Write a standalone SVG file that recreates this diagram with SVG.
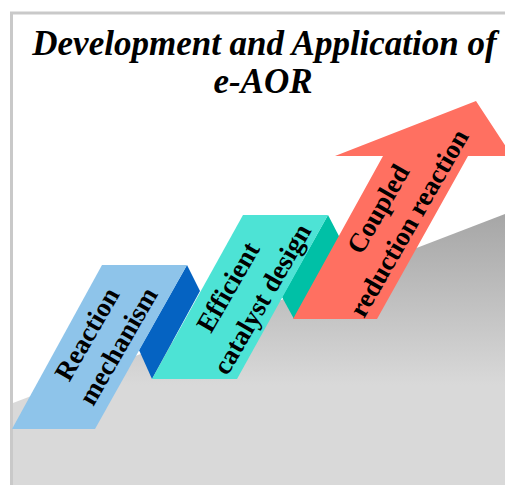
<svg xmlns="http://www.w3.org/2000/svg" width="505" height="485" viewBox="0 0 505 485">
  <style>
    .title { font-family: "Liberation Serif", "Times New Roman", serif; font-weight: bold; font-style: italic; font-size: 35px; fill: #000; }
    .label { font-family: "Liberation Serif", "Times New Roman", serif; font-weight: bold; font-size: 27px; fill: #000; }
  </style>
  <defs>
    <linearGradient id="groundFill" gradientUnits="userSpaceOnUse" x1="0" y1="214" x2="0" y2="385">
      <stop offset="0" stop-color="#a6a6a6"/>
      <stop offset="1" stop-color="#d9d9d9"/>
    </linearGradient>
  </defs>

  <!-- background and frame -->
  <rect x="0" y="0" width="505" height="485" fill="#ffffff"/>
  <rect x="11.5" y="13" width="520" height="500" fill="#ffffff" stroke="#c9c9c9" stroke-width="3"/>

  <!-- rising ground -->
  <polygon id="ground" points="13,403 505,214 505,485 13,485" fill="url(#groundFill)"/>

  <g id="connectors">
    <!-- folds joining the steps -->
    <polygon id="fold-1" points="187,265 200,291 152,379 139,350" fill="#0563c2"/>
    <polygon id="fold-2" points="328,215 341,240 294,319 282,297" fill="#00c0a6"/>
  </g>

  <g id="step-mechanism">
    <polygon points="12,429 102,265 187,265 95,429" fill="#8ec4ea"/>
    <text class="label" text-anchor="middle" transform="translate(87,334) rotate(-60)" y="9">Reaction</text>
    <text class="label" text-anchor="middle" transform="translate(118,346) rotate(-60)" y="9">mechanism</text>
  </g>

  <g id="step-catalyst">
    <polygon points="152,379 243,215 328,215 237,379" fill="#4de3d5"/>
    <text class="label" text-anchor="middle" transform="translate(228,287) rotate(-60)" y="9">Efficient</text>
    <text class="label" text-anchor="middle" transform="translate(262,299) rotate(-60)" y="9">catalyst design</text>
  </g>

  <g id="step-coupled">
    <polygon points="293,319 383,156 335,156 476,101 512,156 468,156 377,319" fill="#ff7061"/>
    <text class="label" text-anchor="middle" transform="translate(378,209) rotate(-60)" y="9">Coupled</text>
    <text class="label" text-anchor="middle" transform="translate(409,223) rotate(-60)" y="9">reduction reaction</text>
  </g>

  <g id="title">
    <text class="title" x="264.5" y="55" text-anchor="middle">Development and Application of</text>
    <text class="title" x="263" y="93" text-anchor="middle">e-AOR</text>
  </g>
</svg>
